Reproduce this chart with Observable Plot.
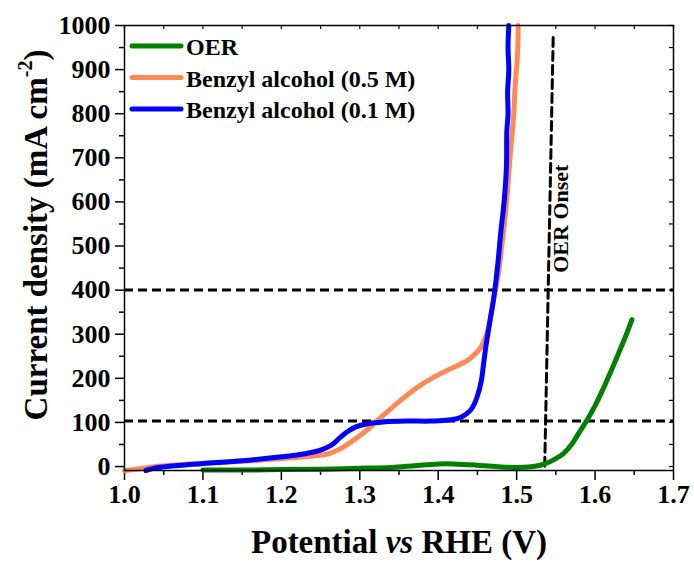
<!DOCTYPE html>
<html>
<head>
<meta charset="utf-8">
<script src="https://cdn.jsdelivr.net/npm/d3@7"></script>
<script src="https://cdn.jsdelivr.net/npm/@observablehq/plot@0.6"></script>
<style>
  body { margin: 0; background: #fff; }
  #chart svg { display: block; }
</style>
</head>
<body>
<div id="chart"></div>
<script>
// Linear sweep voltammetry: potential (V vs RHE) and current density (mA cm^-2)
const oerPotential = [1.10, 1.15, 1.20, 1.25, 1.30, 1.34, 1.37, 1.40, 1.42, 1.45, 1.48, 1.50, 1.515, 1.53, 1.54, 1.55, 1.56, 1.57, 1.58, 1.59, 1.60, 1.61, 1.62, 1.63, 1.64, 1.647];
const oerCurrent   = [-8, -8, -7, -6, -4, -2, 2, 6, 6, 3, -1, -2, -1, 3, 9, 18, 30, 50, 78, 106, 138, 175, 215, 257, 300, 333];

const ba05Potential = [1.00, 1.02, 1.04, 1.06, 1.10, 1.15, 1.20, 1.24, 1.26, 1.275, 1.29, 1.30, 1.31, 1.32, 1.33, 1.352, 1.373, 1.394, 1.416, 1.437, 1.447, 1.455, 1.463, 1.471, 1.477, 1.481, 1.485, 1.489, 1.492, 1.496, 1.498, 1.501, 1.502];
const ba05Current   = [-9, -5, 0, 3, 7, 12, 18, 24, 29, 40, 57, 70, 84, 100, 116, 150, 179, 202, 222, 240, 255, 272, 308, 384, 440, 500, 560, 640, 710, 790, 860, 930, 1000];

const ba01Potential = [1.027, 1.04, 1.06, 1.08, 1.10, 1.15, 1.20, 1.23, 1.25, 1.265, 1.275, 1.285, 1.295, 1.31, 1.33, 1.36, 1.39, 1.41, 1.425, 1.435, 1.443, 1.45, 1.455, 1.458, 1.461, 1.466, 1.471, 1.476, 1.48, 1.484, 1.487, 1.4875, 1.489, 1.4885, 1.490, 1.489, 1.490];
const ba01Current   = [-9, -3, 1, 4, 7, 13, 22, 29, 37, 50, 66, 80, 90, 97, 101, 103, 103, 105, 109, 118, 132, 160, 195, 235, 275, 330, 384, 460, 535, 600, 680, 760, 800, 850, 900, 950, 1000];

// reference levels and the OER onset marker
const guideLevels = [103, 400];
const onsetPotential = [1.5466, 1.5357];
const onsetCurrent = [973, -9];

const seriesNames = ["OER", "Benzyl alcohol (0.5 M)", "Benzyl alcohol (0.1 M)"];
const seriesColors = ["#008000", "#FF8A58", "#0000FF"];

const xMajor = [1.0, 1.1, 1.2, 1.3, 1.4, 1.5, 1.6, 1.7];
const xMinor = [1.05, 1.15, 1.25, 1.35, 1.45, 1.55, 1.65];
const yMajor = [0, 100, 200, 300, 400, 500, 600, 700, 800, 900, 1000];
const yMinor = [50, 150, 250, 350, 450, 550, 650, 750, 850, 950];

const rows = (xs, ys) => xs.map((x, i) => ({x, y: ys[i]}));
const oer = rows(oerPotential, oerCurrent);
const ba05 = rows(ba05Potential, ba05Current);
const ba01 = rows(ba01Potential, ba01Current);
const onset = rows(onsetPotential, onsetCurrent);

const font = "'Liberation Serif', 'Times New Roman', serif";
const W = 694, H = 562;
const mL = 124, mR = 21, mT = 25, mB = 92;
const frameW = W - mL - mR, frameH = H - mT - mB;
const blank = () => "";

const chart = Plot.plot({
  width: W,
  height: H,
  marginLeft: mL,
  marginRight: mR,
  marginTop: mT,
  marginBottom: mB,
  style: {fontFamily: font, fontWeight: "bold", fontSize: "26px", color: "#000", background: "#fff"},
  x: {domain: [1.0, 1.7]},
  y: {domain: [-9, 1000]},
  marks: [
    Plot.axisX({ticks: xMajor, tickSize: 10, tickPadding: 4, tickFormat: d => d.toFixed(1), fontSize: 26, fontWeight: "bold", strokeWidth: 1.5, label: null}),
    Plot.axisX({ticks: xMinor, tickSize: 5, tickFormat: blank, strokeWidth: 1.5, label: null}),
    Plot.axisY({ticks: yMajor, tickSize: 9, tickPadding: 5, tickFormat: d => String(d), fontSize: 26, fontWeight: "bold", strokeWidth: 1.5, label: null}),
    Plot.axisY({ticks: yMinor, tickSize: 5, tickFormat: blank, strokeWidth: 1.5, label: null}),
    // inward ticks on the top and right edges
    Plot.tickX(xMajor.concat(xMinor), {x: d => d, insetBottom: frameH - 4, strokeWidth: 1.2}),
    Plot.tickY(yMajor.concat(yMinor), {y: d => d, insetLeft: frameW - 4, strokeWidth: 1.2}),
    Plot.ruleY(guideLevels, {strokeDasharray: "9,5", strokeWidth: 3, stroke: "#000"}),
    Plot.line(onset, {x: "x", y: "y", strokeDasharray: "9,5", strokeWidth: 3, stroke: "#000"}),
    Plot.line(oer, {x: "x", y: "y", stroke: seriesColors[0], strokeWidth: 5, curve: "catmull-rom"}),
    Plot.line(ba05, {x: "x", y: "y", stroke: seriesColors[1], strokeWidth: 5, curve: "catmull-rom"}),
    Plot.line(ba01, {x: "x", y: "y", stroke: seriesColors[2], strokeWidth: 5, curve: "catmull-rom"}),
    Plot.text(["OER Onset"], {x: 1.556, y: 562, rotate: -90, fontSize: 22, fontWeight: "bold", fill: "#000"}),
    Plot.frame({stroke: "#000", strokeWidth: 1.5})
  ]
});

document.getElementById("chart").appendChild(chart);

const svg = d3.select(chart);

// legend in the upper-left corner of the frame
const legend = svg.append("g")
  .attr("font-family", font)
  .attr("font-weight", "bold")
  .attr("font-size", 24)
  .attr("text-anchor", "start");
seriesNames.forEach((name, i) => {
  const ly = 46 + i * 31.5;
  legend.append("line")
    .attr("x1", 132).attr("x2", 181)
    .attr("y1", ly).attr("y2", ly)
    .attr("stroke", seriesColors[i])
    .attr("stroke-width", 5)
    .attr("stroke-linecap", "round");
  legend.append("text")
    .attr("x", 186).attr("y", ly + 9)
    .text(name);
});

// axis titles
const yTitle = svg.append("text")
  .attr("transform", "translate(47,235) rotate(-90)")
  .attr("text-anchor", "middle")
  .attr("font-family", font)
  .attr("font-weight", "bold")
  .attr("font-size", 33);
yTitle.append("tspan").text("Current density (mA cm");
yTitle.append("tspan").attr("font-size", 20).attr("dy", "-0.75em").text("-2");
yTitle.append("tspan").attr("dy", "0.45em").text(")");

const xTitle = svg.append("text")
  .attr("x", 399).attr("y", 553)
  .attr("text-anchor", "middle")
  .attr("font-family", font)
  .attr("font-weight", "bold")
  .attr("font-size", 33);
xTitle.append("tspan").text("Potential ");
xTitle.append("tspan").attr("font-style", "italic").text("vs");
xTitle.append("tspan").text(" RHE (V)");
</script>
</body>
</html>
